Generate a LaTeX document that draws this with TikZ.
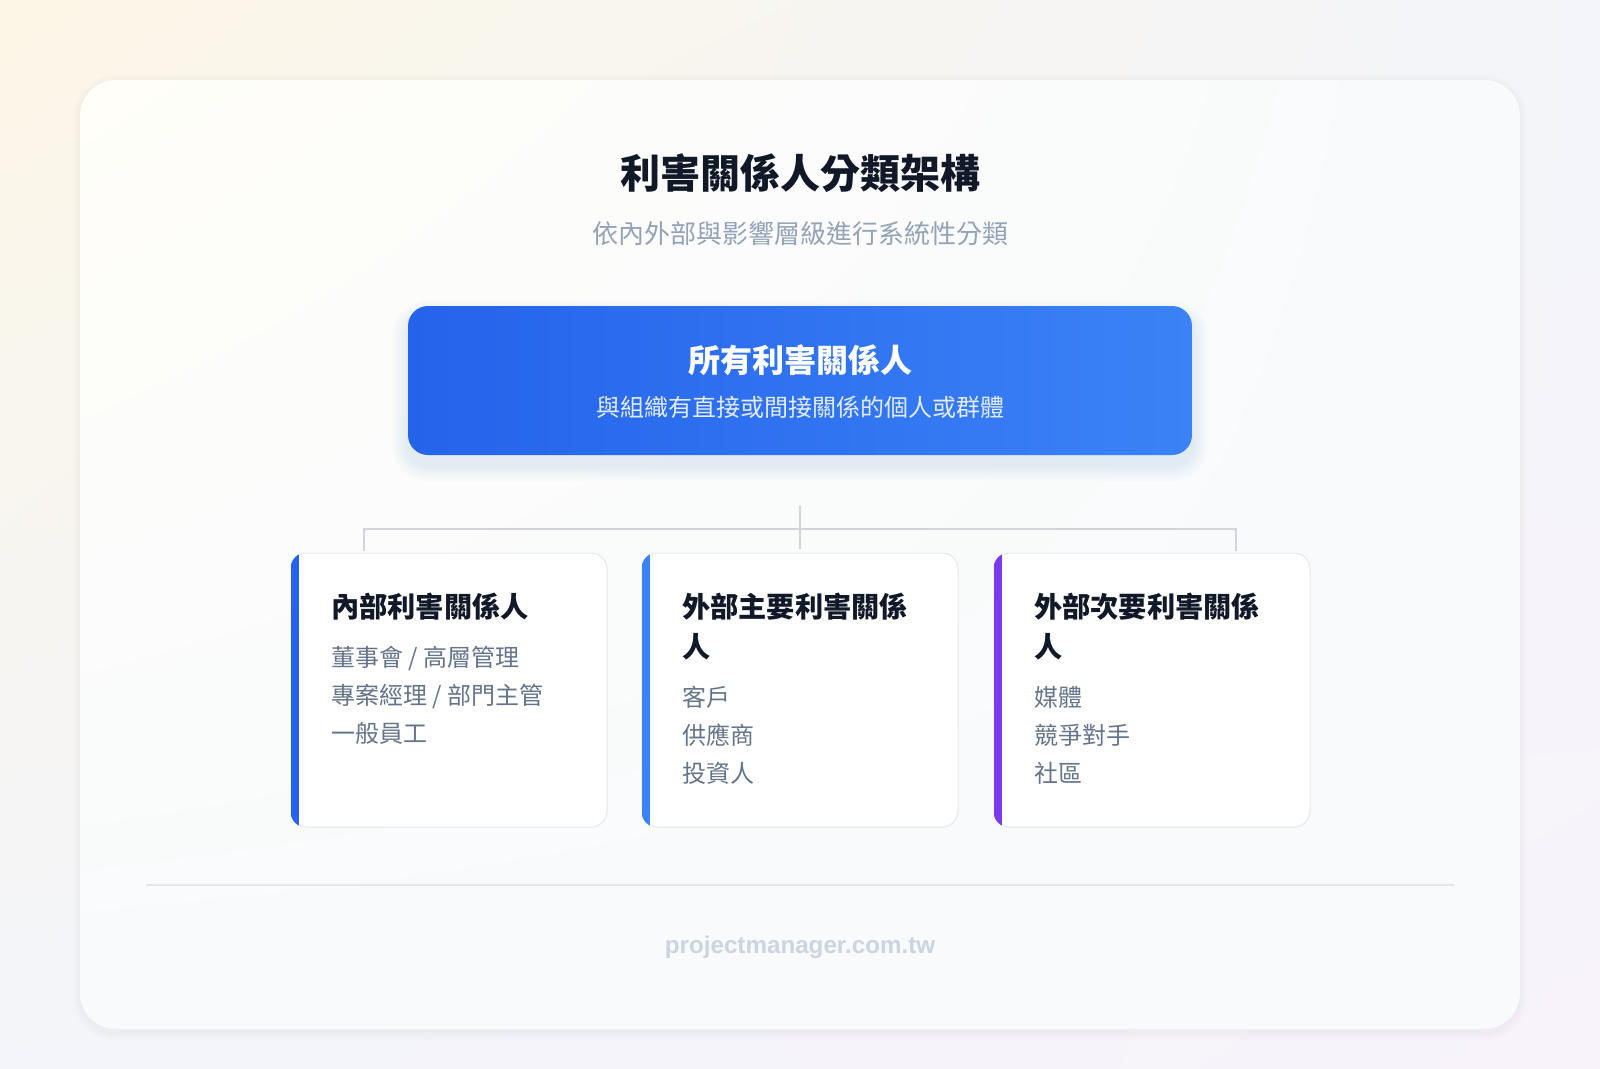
\documentclass[tikz,border=0pt]{standalone}
\usepackage{fontspec}
\setmainfont{Noto Sans CJK TC}
\newfontfamily\urlfont{Liberation Sans}
\usetikzlibrary{calc,positioning,shadings}

\definecolor{bgwarm}{HTML}{FCF6E6}
\definecolor{bgcool}{HTML}{F3F5FA}
\definecolor{bgpink}{HTML}{F8F3FA}
\definecolor{panelA}{HTML}{FFFEF9}
\definecolor{panelB}{HTML}{F8FAFC}
\definecolor{titleink}{HTML}{111827}
\definecolor{subink}{HTML}{94A3B8}
\definecolor{itemink}{HTML}{64748B}
\definecolor{blueA}{HTML}{2563EB}
\definecolor{blueB}{HTML}{3B82F6}
\definecolor{purpleA}{HTML}{7C3AED}
\definecolor{cardline}{HTML}{E5E7EB}
\definecolor{linkgray}{HTML}{D1D5DB}
\definecolor{footink}{HTML}{CBD5E1}
\definecolor{rootsub}{HTML}{E3ECFE}

\tikzset{
	cardbox/.style={draw=cardline, line width=1pt, fill=white, rounded corners=16pt, minimum width=316pt, minimum height=274pt, inner sep=0pt},
	cardtitle/.style={anchor=base west, inner sep=0pt, text=titleink, align=left, font=\fontsize{28.2}{40}\selectfont\bfseries},
	carditem/.style={anchor=base west, inner sep=0pt, text=itemink, align=left, font=\fontsize{24}{38}\selectfont},
	link/.style={draw=linkgray, line width=2pt},
}

\begin{document}
\begin{tikzpicture}[x=1pt, y=-1pt]
	
	\useasboundingbox (0, 0) rectangle (1600, 1068);
	\shade[upper left=bgwarm, upper right=bgcool, lower left=bgcool, lower right=bgpink] (0, 0) rectangle (1600, 1068);
	
	% panel with soft shadow
	\foreach \s in {1,...,8}
		\fill[black, opacity=0.005, rounded corners=36pt+\s pt] (80-\s, 82-\s) rectangle (1520+\s, 1033+\s);
	\shade[upper left=panelA, upper right=panelB, lower left=panelB, lower right=panelB, rounded corners=36pt] (80, 80) rectangle (1520, 1029);
	
	\node[anchor=base, text=titleink, font=\fontsize{40}{46}\selectfont\bfseries] (title) at (800, 188) {利害關係人分類架構};
	\node[anchor=base, text=subink, font=\fontsize{26}{30}\selectfont] (subtitle) at (800, 243) {依內外部與影響層級進行系統性分類};
	
	% root box
	\foreach \s in {2,4,...,16}
		\fill[blueA, opacity=0.012, rounded corners=20pt+\s pt] (408-\s, 316-\s) rectangle (1192+\s, 465+\s);
	\node[rounded corners=20pt, minimum width=784pt, minimum height=149pt, inner sep=0pt, left color=blueA, right color=blueB] (root) at (800, 380.5) {};
	\node[anchor=base, text=white, font=\fontsize{32}{36}\selectfont\bfseries] (rootname) at (800, 372) {所有利害關係人};
	\node[anchor=base, text=rootsub, font=\fontsize{24}{28}\selectfont] (rootnote) at (800, 416) {與組織有直接或間接關係的個人或群體};
	
	% cards
	\node[cardbox] (card1) at (449, 690) {};
	\node[cardbox] (card2) at (800, 690) {};
	\node[cardbox] (card3) at (1152, 690) {};
	\foreach \c/\col in {card1/blueA, card2/blueB, card3/purpleA} {
		\begin{scope}
			\clip[rounded corners=16pt] (\c.north west) rectangle (\c.south east);
			\fill[\col] (\c.north west) rectangle ($(\c.south west)+(8, 0)$);
		\end{scope}
	}
	
	% multi-line nodes sit on their last baseline
	\node[cardtitle] (head1) at (331, 617) {內部利害關係人};
	\node[carditem] (list1) at (331, 742) {董事會 / 高層管理\\專案經理 / 部門主管\\一般員工};
	\node[cardtitle] (head2) at (682, 657) {外部主要利害關係\\人};
	\node[carditem] (list2) at (682, 782) {客戶\\供應商\\投資人};
	\node[cardtitle] (head3) at (1034, 657) {外部次要利害關係\\人};
	\node[carditem] (list3) at (1034, 782) {媒體\\競爭對手\\社區};
	
	% connectors
	\coordinate (stem) at (800, 506);
	\coordinate (hub) at (800, 549);
	\coordinate (bar) at (800, 529);
	\coordinate (dropL) at (364, 551);
	\coordinate (dropR) at (1236, 551);
	\path[link] (stem) edge (hub);
	\draw[link] (dropL) |- (bar) -| (dropR);
	
	% footer
	\draw[cardline, line width=1.5pt] (146, 885) -- (1454, 885);
	\node[anchor=base, text=footink, font=\urlfont\fontsize{24.2}{28}\selectfont\bfseries] (footer) at (800, 953) {projectmanager.com.tw};
	
\end{tikzpicture}
\end{document}
